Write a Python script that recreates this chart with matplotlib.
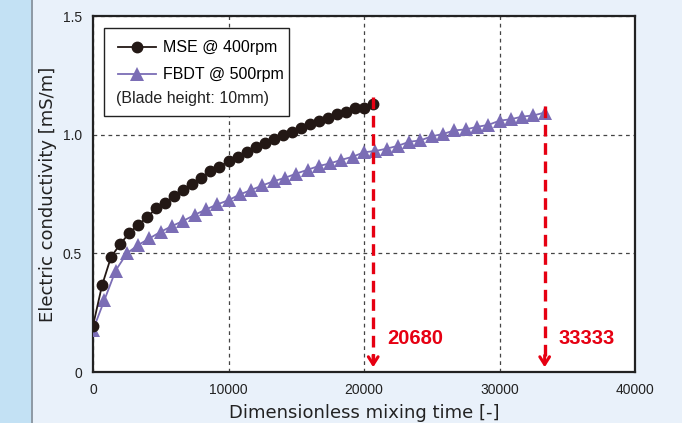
import numpy as np
from matplotlib import pyplot as plt
from matplotlib.patches import Rectangle
from matplotlib.lines import Line2D

# MSE @ 400rpm: one point every 100 s -> 666.7 dimensionless units
mse_step = 400 / 60 * 100
mse_y = [0.195, 0.365, 0.485, 0.538, 0.585, 0.620, 0.652, 0.690, 0.714, 0.740,
         0.768, 0.793, 0.818, 0.845, 0.865, 0.888, 0.905, 0.927, 0.946, 0.965,
         0.983, 0.998, 1.012, 1.030, 1.045, 1.058, 1.070, 1.085, 1.097, 1.113,
         1.111, 1.128]
# FBDT @ 500rpm: one point every 100 s -> 833.3 units
fbdt_step = 500 / 60 * 100
fbdt_y = [0.177, 0.302, 0.427, 0.500, 0.535, 0.563, 0.591, 0.615, 0.637, 0.662,
          0.685, 0.706, 0.724, 0.748, 0.767, 0.786, 0.804, 0.818, 0.836, 0.852,
          0.868, 0.879, 0.894, 0.907, 0.926, 0.931, 0.941, 0.953, 0.970, 0.976,
          0.993, 1.003, 1.018, 1.022, 1.033, 1.041, 1.059, 1.065, 1.076, 1.081,
          1.093]
mse_x = np.arange(len(mse_y)) * mse_step
fbdt_x = np.arange(len(fbdt_y)) * fbdt_step

# fine di miscelazione (frecce rosse)
end_times = [20680, 33333]
end_tops = [1.16, 1.12]

x_ticks = [0, 10000, 20000, 30000, 40000]
y_ticks = [0, 0.5, 1.0, 1.5]
y_ticklabels = ["0", "0.5", "1.0", "1.5"]

black = "#231815"
purple = "#7B6DB5"
red = "#E60012"
fam = ["Liberation Sans", "DejaVu Sans"]

fig = plt.figure(figsize=(6.82, 4.23), dpi=100)
fig.patch.set_facecolor("#E9F1FA")
# striscia azzurra a sinistra
fig.patches.append(Rectangle((0, 0), 31 / 682, 1, transform=fig.transFigure,
                             facecolor="#C3E1F4", edgecolor="none", zorder=0))
fig.add_artist(Line2D([31.5 / 682, 31.5 / 682], [0, 1], transform=fig.transFigure,
                      color="#7D8A96", lw=1.2))

ax = fig.add_axes([93 / 682, 1 - 372 / 423, 542 / 682, 356 / 423])
ax.set_facecolor("white")

ax.grid(True, linestyle=(0, (3, 3)), color="#444444", lw=0.9)
ax.set_axisbelow(True)

ax.plot(mse_x, mse_y, color=black, lw=1.3, marker="o", ms=7.5, zorder=4)
ax.plot(fbdt_x, fbdt_y, color=purple, lw=1.3, marker="^", ms=9.5,
        markeredgewidth=0, zorder=3)

for t, top in zip(end_times, end_tops):
    ax.plot([t, t], [top, 0.05], color=red, lw=2.4, linestyle=(0, (3.5, 2)), zorder=5)
    ax.annotate("", xy=(t, 0.02), xytext=(t, 0.07),
                arrowprops=dict(arrowstyle="->,head_length=0.55,head_width=0.35",
                                color=red, lw=2.2, shrinkA=0, shrinkB=0), zorder=5)
    ax.text(t + 1000, 0.143, str(t), color=red, fontsize=14.5, fontweight="bold",
            family=fam, va="center", ha="left")

ax.set_xlim(0, 40000)
ax.set_ylim(0, 1.5)
ax.set_xticks(x_ticks)
ax.set_yticks(y_ticks)
ax.set_yticklabels(y_ticklabels)
ax.tick_params(length=0, pad=8, labelsize=10, colors="#222222")
for lab in ax.get_xticklabels() + ax.get_yticklabels():
    lab.set_family(fam)

for s in ax.spines.values():
    s.set_color("#222222")
    s.set_linewidth(1.6)

ax.set_xlabel("Dimensionless mixing time [-]", fontsize=13, color="#222222", labelpad=5)
ax.set_ylabel("Electric conductivity [mS/m]", fontsize=13, color="#222222", labelpad=4)

# legenda con riquadro disegnato a mano
ax.add_patch(Rectangle((0.0203, 0.719), 0.3413, 0.247, transform=ax.transAxes,
                       facecolor="white", edgecolor="#222222", lw=1.0, zorder=6))
h1 = Line2D([], [], color=black, lw=1.3, marker="o", ms=7.5)
h2 = Line2D([], [], color=purple, lw=1.3, marker="^", ms=9.5, markeredgewidth=0)
leg = ax.legend([h1, h2], ["MSE @ 400rpm", "FBDT @ 500rpm"], loc="upper left",
                bbox_to_anchor=(0.037, 0.945), frameon=False, numpoints=1,
                handlelength=2.4, handletextpad=0.45, labelspacing=0.75,
                prop=dict(family=fam, size=11.5),
                borderaxespad=0, borderpad=0.3)
leg.set_zorder(7)
ax.text(0.042, 0.767, "(Blade height: 10mm)", transform=ax.transAxes, fontsize=11.5,
        family=fam, va="center", ha="left", zorder=8, color="#222222")

fig.savefig("out.png", dpi=100, facecolor=fig.get_facecolor())
